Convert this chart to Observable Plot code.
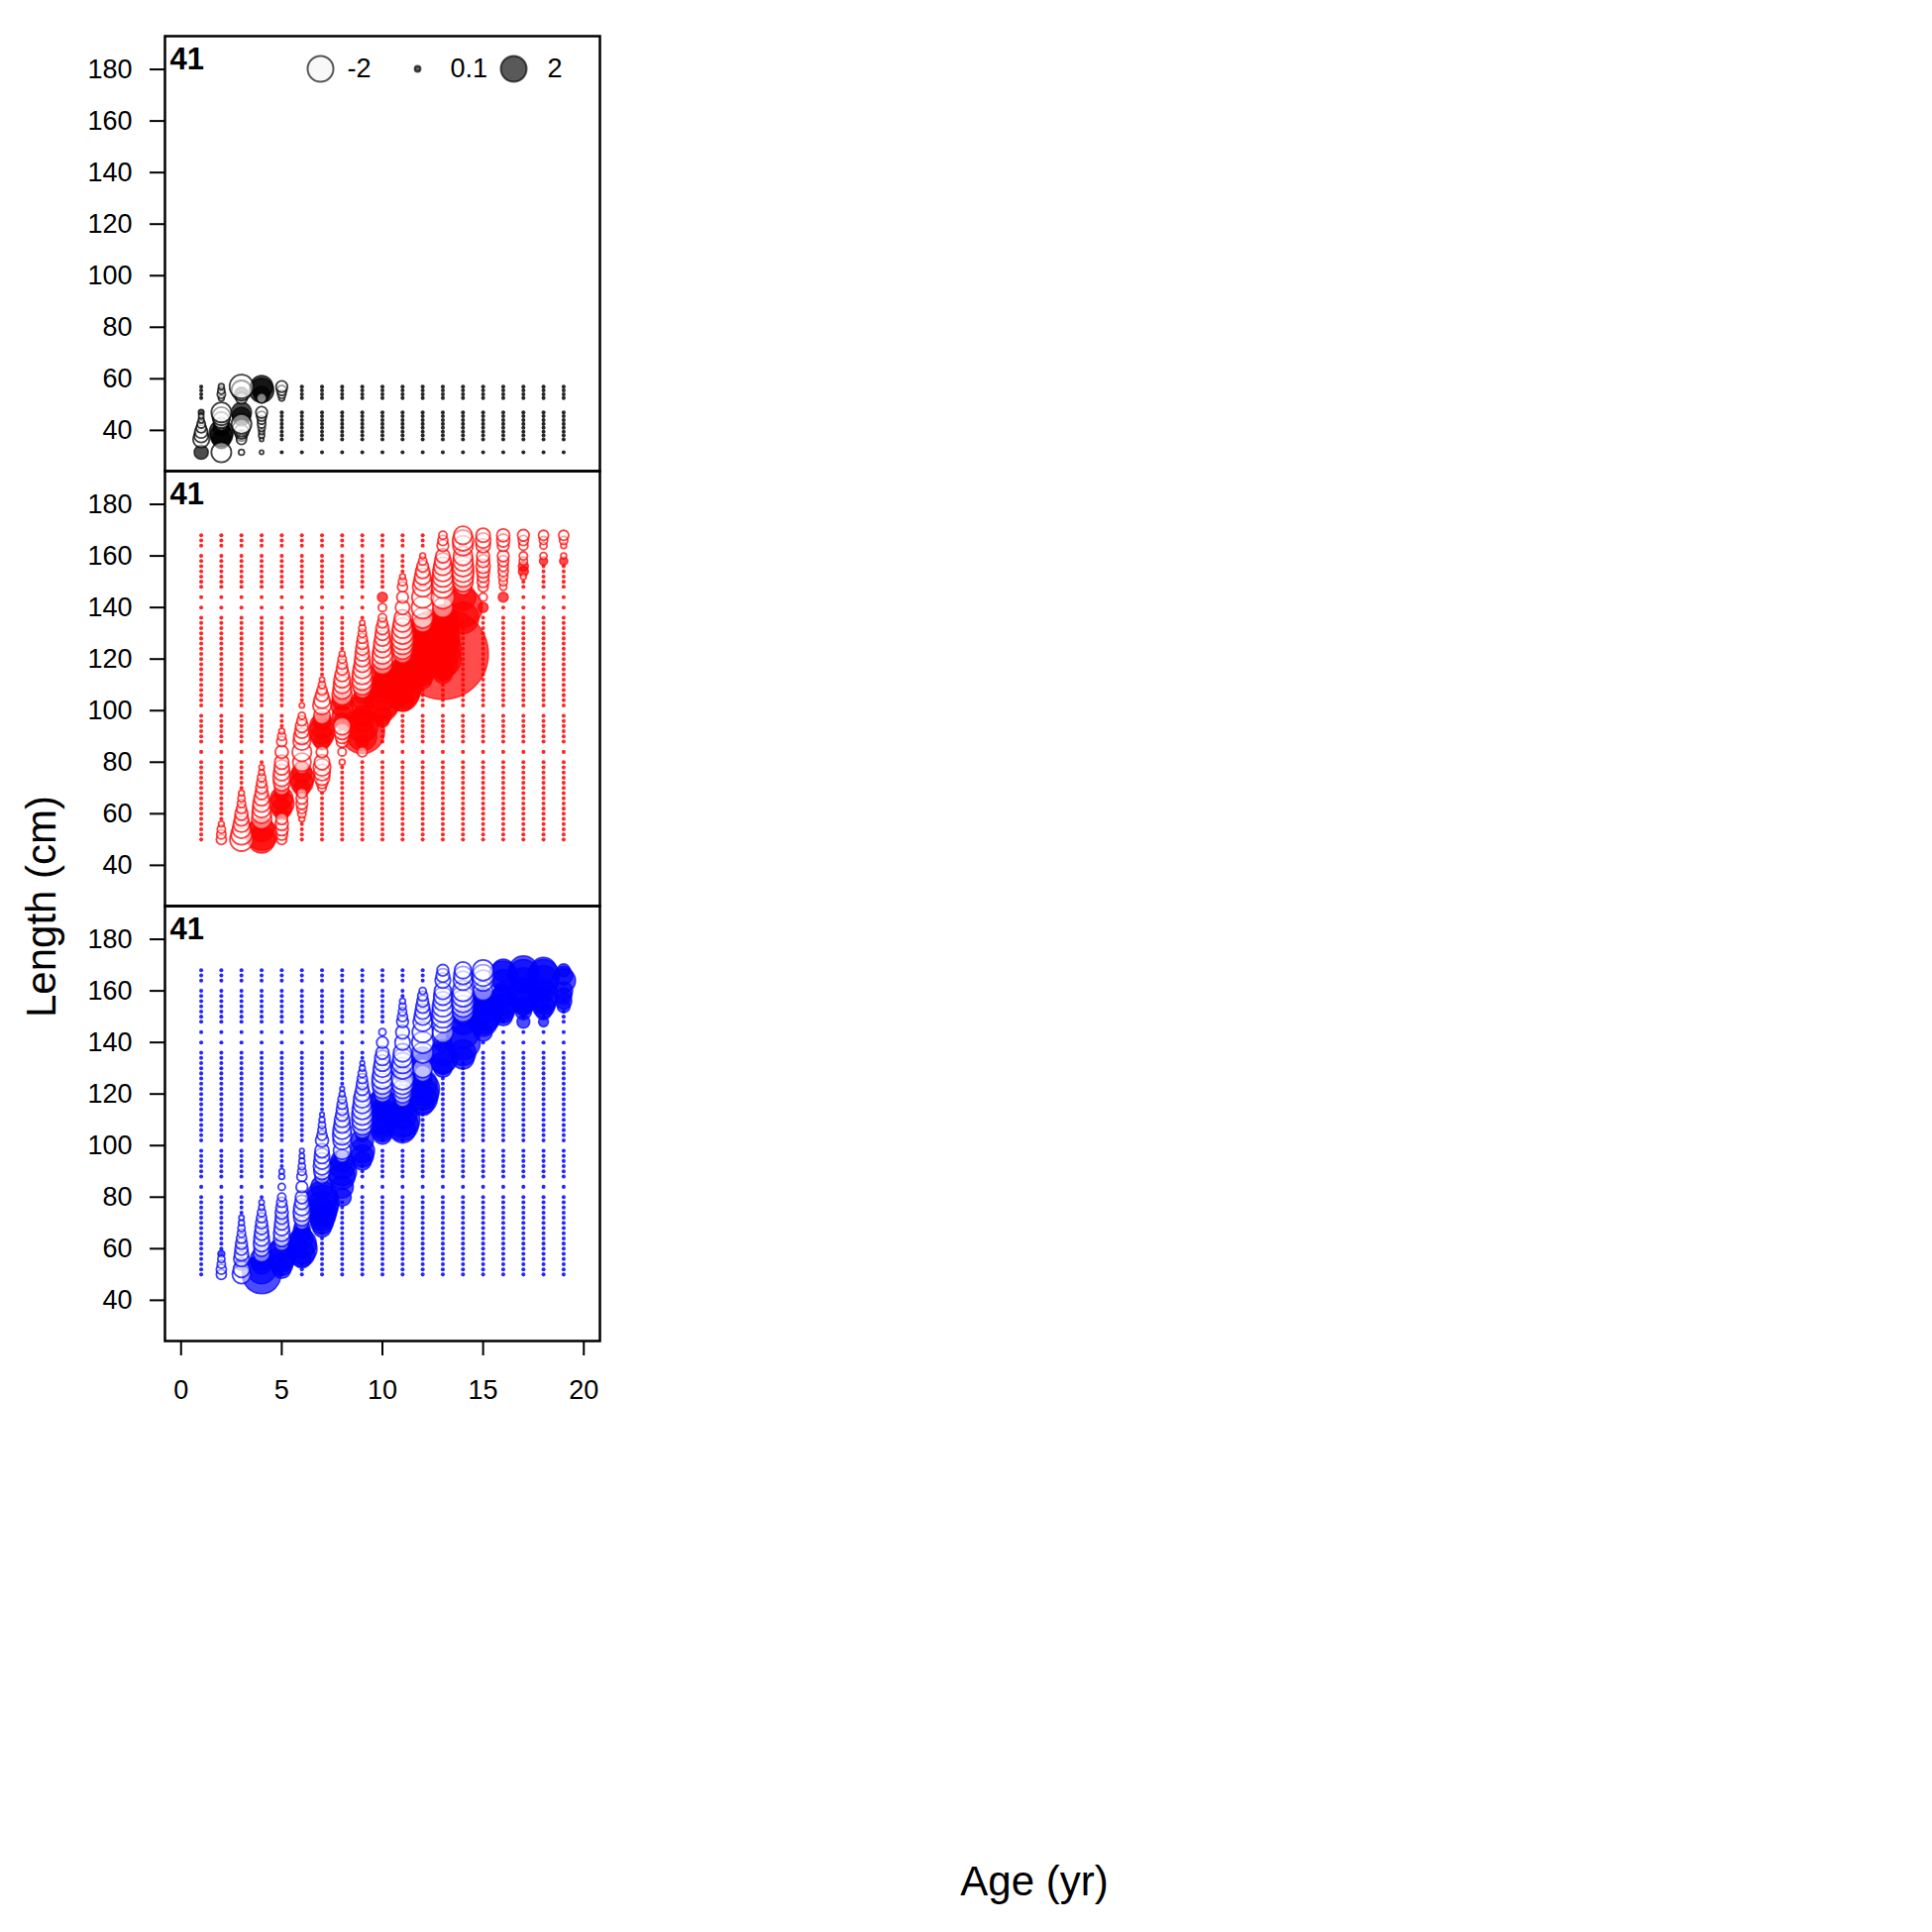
<!DOCTYPE html>
<html><head><meta charset="utf-8">
<script src="https://cdn.jsdelivr.net/npm/d3@7"></script>
<script src="https://cdn.jsdelivr.net/npm/@observablehq/plot@0.6"></script>
<style>body{margin:0;background:#fff;overflow:hidden}#chart{width:1950px;height:1950px}#chart svg{display:block}</style>
</head><body><div id="chart"></div><script>
// ---------- data ----------
const ages = [1,2,3,4,5,6,7,8,9,10,11,12,13,14,15,16,17,18,19];
const xTicks = [0,5,10,15,20];
const yTicks = [40,60,80,100,120,140,160,180];
const panelIds = ["A","B","C"];
const panelColors = ["black","red","blue"];
const panelLabels = ["41","41","41"];
// length bins present in each panel
const topRows = [31.5,36.5,38,39.5,41,42.5,44,45.5,47,52.5,54,55.5,57];
const sexRows = [50,52,54,56,58,60,62,64,66,68,70,72,74,76,78,80,84,88,90,92,94,96,98,102,104,106,108,110,112,114,116,118,120,122,124,126,128,130,132,134,136,140,144,148,150,152,154,156,158,160,164,166,168];
// residual of the many tiny dots
const tinyResid = 0.03;
// notable residuals [age, length, residual]
const topResid = [
[1,31.5,0.6],[1,36.5,-0.8],[1,38,-0.6],[1,39.5,-0.5],[1,41,-0.3],[1,42.5,-0.2],[1,44,-0.1],[1,45.5,-0.08],[1,47,0.1],
[2,31.5,-1.2],[2,36.5,1.0],[2,38,1.5],[2,39.5,1.7],[2,41,0.8],[2,42.5,-0.5],[2,44,-0.8],[2,45.5,-1.0],[2,47,-1.2],[2,52.5,-0.1],[2,54,-0.2],[2,55.5,-0.15],[2,57,-0.1],
[3,31.5,-0.1],[3,36.5,-0.3],[3,38,0.4],[3,39.5,-0.6],[3,41,-0.9],[3,42.5,-1.2],[3,44,0.5],[3,45.5,1.0],[3,47,1.2],[3,52.5,-0.4],[3,54,0.6],[3,55.5,-1.2],[3,57,-1.7],
[4,31.5,-0.05],[4,36.5,-0.05],[4,38,-0.1],[4,39.5,-0.1],[4,41,-0.15],[4,42.5,-0.2],[4,44,-0.2],[4,45.5,-0.3],[4,47,-0.4],[4,52.5,-0.3],[4,54,0.8],[4,55.5,1.8],[4,57,1.5],
[5,52.5,-0.1],[5,54,-0.2],[5,55.5,-0.3],[5,57,-0.4]
];
const femaleResid = [
[2,50,-0.3],[2,52,-0.25],[2,54,-0.2],[2,56,-0.1],
[3,50,-1.6],[3,52,-1.3],[3,54,-1.0],[3,56,-0.8],[3,58,-0.6],[3,60,-0.5],[3,62,-0.3],[3,64,-0.2],[3,66,-0.15],[3,68,-0.1],
[4,50,2.2],[4,52,3.0],[4,54,1.8],[4,56,0.6],[4,58,-1.2],[4,60,-1.1],[4,62,-1.0],[4,64,-0.9],[4,66,-0.7],[4,68,-0.5],[4,70,-0.4],[4,72,-0.3],[4,74,-0.2],[4,76,-0.1],[4,78,-0.08],
[5,50,-0.3],[5,52,-0.4],[5,54,-0.5],[5,56,-0.5],[5,58,-0.4],[5,60,0.5],[5,62,1.2],[5,64,1.8],[5,66,1.5],[5,68,0.6],[5,70,-0.6],[5,72,-0.8],[5,74,-0.9],[5,76,-0.8],[5,78,-0.7],[5,80,-0.6],[5,84,-0.5],[5,88,-0.3],[5,90,-0.2],[5,92,-0.1],
[6,58,-0.1],[6,60,-0.2],[6,62,-0.3],[6,64,-0.4],[6,66,-0.4],[6,68,-0.3],[6,70,0.8],[6,72,1.5],[6,74,1.8],[6,76,1.2],[6,78,-0.5],[6,80,-1.0],[6,84,-1.1],[6,88,-0.9],[6,90,-0.8],[6,92,-0.6],[6,94,-0.5],[6,96,-0.3],[6,98,-0.15],[6,102,-0.08],
[7,70,-0.2],[7,72,-0.4],[7,74,-0.7],[7,76,-0.8],[7,78,-0.9],[7,80,-0.7],[7,84,-0.4],[7,88,0.8],[7,90,1.5],[7,92,2.0],[7,94,1.8],[7,96,1.0],[7,98,-0.8],[7,102,-1.0],[7,104,-0.8],[7,106,-0.5],[7,108,-0.3],[7,110,-0.15],[7,112,-0.08],
[8,80,-0.1],[8,84,-0.2],[8,88,-0.4],[8,90,-0.6],[8,92,-0.8],[8,94,-0.9],[8,96,0.8],[8,98,1.2],[8,102,1.5],[8,104,1.2],[8,106,-1.2],[8,108,-1.0],[8,110,-0.9],[8,112,-0.8],[8,114,-0.6],[8,116,-0.4],[8,118,-0.3],[8,120,-0.2],[8,122,-0.1],
[9,84,-0.3],[9,88,0.5],[9,90,2.5],[9,92,6.0],[9,94,3.0],[9,96,1.5],[9,98,1.2],[9,102,1.5],[9,104,1.2],[9,106,0.8],[9,108,-0.8],[9,110,-1.2],[9,112,-1.3],[9,114,-1.2],[9,116,-1.0],[9,118,-0.8],[9,120,-0.7],[9,122,-0.6],[9,124,-0.5],[9,126,-0.4],[9,128,-0.3],[9,130,-0.2],[9,132,-0.15],[9,134,-0.08],
[10,96,0.5],[10,98,1.0],[10,102,3.0],[10,104,4.0],[10,106,3.0],[10,108,2.0],[10,110,1.5],[10,112,1.0],[10,114,2.0],[10,116,1.0],[10,118,-1.2],[10,120,-1.3],[10,122,-1.2],[10,124,-1.0],[10,126,-0.9],[10,128,-0.7],[10,130,-0.6],[10,132,-0.5],[10,134,-0.3],[10,136,-0.2],[10,140,-0.2],[10,144,0.3],
[11,104,1.5],[11,106,3.0],[11,108,4.0],[11,110,4.5],[11,112,3.5],[11,114,2.5],[11,116,1.5],[11,118,1.0],[11,120,0.6],[11,122,-1.0],[11,124,-1.3],[11,126,-1.4],[11,128,-1.5],[11,130,-1.4],[11,132,-1.2],[11,134,-1.0],[11,136,-0.8],[11,140,-0.6],[11,144,-0.4],[11,148,-0.3],[11,150,-0.2],[11,152,-0.1],
[12,112,1.0],[12,114,1.5],[12,116,2.0],[12,118,3.0],[12,120,4.5],[12,122,6.0],[12,124,7.0],[12,126,6.0],[12,128,5.0],[12,130,3.0],[12,132,1.5],[12,134,-1.0],[12,136,-1.3],[12,140,-1.5],[12,144,-1.4],[12,148,-1.2],[12,150,-1.0],[12,152,-0.8],[12,154,-0.6],[12,156,-0.4],[12,158,-0.2],[12,160,-0.1],
[13,114,1.0],[13,116,1.5],[13,118,2.5],[13,120,4.0],[13,122,25.0],[13,124,4.0],[13,126,3.0],[13,128,3.5],[13,130,3.0],[13,132,2.5],[13,134,3.5],[13,136,2.0],[13,140,-1.2],[13,144,-1.6],[13,148,-1.5],[13,150,-1.4],[13,152,-1.3],[13,154,-1.2],[13,156,-1.0],[13,158,-0.8],[13,160,-0.6],[13,164,-0.4],[13,166,-0.3],[13,168,-0.2],
[14,136,3.0],[14,140,4.5],[14,144,2.0],[14,148,-0.8],[14,150,-1.2],[14,152,-1.3],[14,154,-1.4],[14,156,-1.3],[14,158,-1.2],[14,160,-1.1],[14,164,-1.2],[14,166,-1.3],[14,168,-1.0],
[15,140,0.3],[15,144,-0.2],[15,148,-0.3],[15,150,-0.4],[15,152,-0.4],[15,154,-0.5],[15,156,-0.6],[15,158,-0.5],[15,160,-0.5],[15,164,-0.6],[15,166,-0.7],[15,168,-0.6],
[16,144,0.3],[16,148,-0.15],[16,150,-0.2],[16,152,-0.25],[16,154,-0.3],[16,156,-0.3],[16,158,-0.35],[16,160,-0.4],[16,164,-0.4],[16,166,-0.5],[16,168,-0.5],
[17,152,-0.1],[17,154,0.3],[17,156,0.3],[17,158,-0.2],[17,160,-0.2],[17,164,-0.25],[17,166,-0.3],[17,168,-0.4],
[18,158,0.2],[18,160,-0.15],[18,164,-0.15],[18,166,-0.2],[18,168,-0.3],
[19,158,0.2],[19,160,-0.1],[19,164,-0.1],[19,166,-0.2],[19,168,-0.3]
];
const maleResid = [
[2,50,-0.3],[2,52,-0.3],[2,54,-0.2],[2,56,-0.15],[2,58,0.15],
[3,50,-1.0],[3,52,-0.8],[3,54,0.5],[3,56,-0.7],[3,58,-0.6],[3,60,-0.5],[3,62,-0.4],[3,64,-0.3],[3,66,-0.2],[3,68,-0.15],[3,70,-0.1],[3,72,-0.08],
[4,50,4.5],[4,52,2.5],[4,54,1.2],[4,56,1.5],[4,58,-0.8],[4,60,-0.7],[4,62,-0.8],[4,64,-0.7],[4,66,-0.6],[4,68,-0.5],[4,70,-0.4],[4,72,-0.3],[4,74,-0.2],[4,76,-0.1],[4,78,-0.08],
[5,52,1.0],[5,54,1.5],[5,56,2.0],[5,58,2.7],[5,60,1.5],[5,62,-0.6],[5,64,-0.8],[5,66,-0.8],[5,68,-0.7],[5,70,-0.6],[5,72,-0.5],[5,74,-0.5],[5,76,-0.4],[5,78,-0.3],[5,80,-0.2],[5,84,-0.15],[5,88,-0.1],[5,90,-0.08],
[6,56,1.0],[6,58,2.0],[6,60,2.8],[6,62,2.5],[6,64,1.5],[6,66,1.0],[6,68,0.8],[6,70,-0.5],[6,72,-0.8],[6,74,-0.9],[6,76,-0.8],[6,78,-0.6],[6,80,-0.5],[6,84,-0.4],[6,88,-0.3],[6,90,-0.2],[6,92,-0.15],[6,94,-0.1],[6,96,-0.08],[6,98,-0.06],
[7,68,1.0],[7,70,1.5],[7,72,2.0],[7,74,2.5],[7,76,3.0],[7,78,3.5],[7,80,3.0],[7,84,1.5],[7,88,-0.6],[7,90,-0.8],[7,92,-0.9],[7,94,-0.8],[7,96,-0.7],[7,98,-0.6],[7,102,-0.5],[7,104,-0.3],[7,106,-0.2],[7,108,-0.15],[7,110,-0.1],[7,112,-0.06],
[8,80,1.0],[8,84,1.5],[8,88,2.0],[8,90,2.5],[8,92,2.0],[8,94,1.5],[8,96,-0.5],[8,98,-0.9],[8,102,-1.0],[8,104,-1.1],[8,106,-1.0],[8,108,-0.8],[8,110,-0.7],[8,112,-0.5],[8,114,-0.4],[8,116,-0.3],[8,118,-0.2],[8,120,-0.1],[8,122,-0.06],
[9,94,1.0],[9,96,1.5],[9,98,1.8],[9,102,1.5],[9,104,0.5],[9,106,-0.8],[9,108,-1.2],[9,110,-1.3],[9,112,-1.3],[9,114,-1.2],[9,116,-1.0],[9,118,-0.9],[9,120,-0.7],[9,122,-0.5],[9,124,-0.4],[9,126,-0.3],[9,128,-0.2],[9,130,-0.1],[9,132,-0.06],
[10,104,1.0],[10,106,1.5],[10,108,2.0],[10,110,2.5],[10,112,2.0],[10,114,1.5],[10,116,2.7],[10,118,1.5],[10,120,-0.8],[10,122,-1.1],[10,124,-1.3],[10,126,-1.3],[10,128,-1.1],[10,130,-1.0],[10,132,-0.8],[10,134,-0.7],[10,136,-0.5],[10,140,-0.4],[10,144,-0.15],
[11,106,2.0],[11,108,3.0],[11,110,3.6],[11,112,2.5],[11,114,1.5],[11,116,1.0],[11,118,-0.7],[11,120,-1.0],[11,122,-1.1],[11,124,-1.4],[11,126,-1.5],[11,128,1.0],[11,130,-1.4],[11,132,-1.3],[11,134,-1.1],[11,136,-1.0],[11,140,-0.7],[11,144,-0.55],[11,148,-0.4],[11,150,-0.3],[11,152,-0.2],[11,154,-0.15],[11,156,-0.1],
[12,116,1.5],[12,118,2.5],[12,120,3.0],[12,122,3.4],[12,124,2.5],[12,126,1.0],[12,128,-0.8],[12,130,-1.1],[12,132,1.2],[12,134,1.5],[12,136,-1.3],[12,140,-1.4],[12,144,-1.3],[12,148,-1.1],[12,150,-0.85],[12,152,-0.7],[12,154,-0.55],[12,156,-0.4],[12,158,-0.3],[12,160,-0.15],
[13,130,1.0],[13,132,1.5],[13,134,2.7],[13,136,2.0],[13,140,1.0],[13,144,-1.3],[13,148,-1.4],[13,150,-1.5],[13,152,-1.4],[13,154,-1.3],[13,156,-1.1],[13,158,-1.0],[13,160,-0.85],[13,164,-0.7],[13,166,-0.55],[13,168,-0.4],
[14,134,1.5],[14,136,2.0],[14,140,3.6],[14,144,3.2],[14,148,2.0],[14,150,1.0],[14,152,-1.3],[14,154,-1.4],[14,156,-1.5],[14,158,-1.4],[14,160,-1.3],[14,164,-1.1],[14,166,-1.0],[14,168,-0.85],
[15,144,1.0],[15,148,2.5],[15,150,3.5],[15,152,4.5],[15,154,3.5],[15,156,2.0],[15,158,1.0],[15,160,-1.1],[15,164,-1.3],[15,166,-1.4],[15,168,-1.3],
[16,150,1.0],[16,152,1.5],[16,154,2.0],[16,156,2.5],[16,158,1.5],[16,160,1.0],[16,164,1.5],[16,166,2.5],[16,168,1.5],
[17,148,0.5],[17,152,0.8],[17,154,1.0],[17,156,2.0],[17,158,3.0],[17,160,2.0],[17,164,2.0],[17,166,3.0],[17,168,2.5],
[18,148,0.3],[18,152,0.8],[18,154,1.5],[18,156,2.0],[18,158,2.7],[18,160,1.5],[18,164,2.7],[18,166,3.0],[18,168,2.0],
[19,154,0.5],[19,156,0.8],[19,158,0.8],[19,160,1.0],[19,164,1.7],[19,166,1.0],[19,168,0.5]
];
const legendValues = [-2, 0.1, 2];
const legendLabels = ["-2", "0.1", "2"];

// ---------- build table ----------
function build(panel, rows, resid) {
  const m = new Map(resid.map(([a, l, z]) => [a + "|" + l, z]));
  const out = [];
  for (const a of ages) for (const l of rows) {
    const k = a + "|" + l;
    out.push({panel, age: a, len: l, z: m.has(k) ? m.get(k) : tinyResid});
  }
  return out;
}
const colorOf = Object.fromEntries(panelIds.map((p, i) => [p, panelColors[i]]));
const all = [
  ...build("A", topRows, topResid),
  ...build("B", sexRows, femaleResid),
  ...build("C", sexRows, maleResid)
];
const tiny = all.filter(d => Math.abs(d.z) <= tinyResid);
const pos = all.filter(d => d.z > tinyResid);
const neg = all.filter(d => d.z < -tinyResid);

const legendDotDx = [157, 255, 352];
const legendTextDx = [184, 288, 386];
const legendMarks = [];
legendValues.forEach((v, i) => {
  legendMarks.push(Plot.dot([v], {
    frameAnchor: "top-left", dx: legendDotDx[i], dy: 33, fy: () => "A",
    r: d => Math.abs(d),
    fill: v < 0 ? "#f8f8f8" : "black", fillOpacity: v < 0 ? 1 : 0.65,
    stroke: "black", strokeOpacity: 0.65, strokeWidth: 2
  }));
  legendMarks.push(Plot.text([legendLabels[i]], {
    frameAnchor: "top-left", dx: legendTextDx[i], dy: 33, fy: () => "A",
    textAnchor: "start", lineAnchor: "middle", fontSize: 27, fill: "black"
  }));
});

const plot = Plot.plot({
  width: 1950, height: 1950,
  marginLeft: 166, marginRight: 1345, marginTop: 35, marginBottom: 596,
  style: {fontFamily: "'Liberation Sans', Arial, sans-serif", background: "white", color: "black"},
  x: {domain: [-0.8, 20.8]},
  y: {domain: [24.2, 192.9]},
  r: {domain: [0, 2], range: [0, 13]},
  fy: {domain: panelIds, padding: 0, axis: null, label: null},
  marks: [
    Plot.dot(tiny, {x: "age", y: "len", fy: "panel", r: d => Math.abs(d.z) * 1.6, sort: null,
      fill: d => colorOf[d.panel], fillOpacity: 0.85}),
    Plot.dot(pos, {x: "age", y: "len", fy: "panel", r: d => Math.abs(d.z), sort: null,
      fill: d => colorOf[d.panel], fillOpacity: 0.7,
      stroke: d => colorOf[d.panel], strokeOpacity: 0.7, strokeWidth: 1.5}),
    Plot.dot(neg, {x: "age", y: "len", fy: "panel", r: d => Math.abs(d.z), sort: null,
      fill: "white", fillOpacity: 0.5,
      stroke: d => colorOf[d.panel], strokeOpacity: 0.75, strokeWidth: 1.8}),
    Plot.frame({stroke: "black", strokeWidth: 2.5}),
    Plot.axisY({ticks: yTicks, tickSize: 15, tickPadding: 18, fontSize: 27, label: null, strokeWidth: 2}),
    Plot.axisX({ticks: xTicks, tickSize: 15, tickPadding: 24, fontSize: 27, label: null, strokeWidth: 2}),
    Plot.text(panelLabels.map((t, i) => ({t, p: panelIds[i]})), {text: "t", fy: "p",
      frameAnchor: "top-left", dx: 5, dy: 11, lineAnchor: "top", textAnchor: "start",
      fontWeight: "bold", fontSize: 31, fill: "black"}),
    ...legendMarks
  ]
});
const svg = d3.select(plot);
svg.append("text").attr("transform", "translate(45,915) rotate(-90)")
  .attr("text-anchor", "middle").attr("dominant-baseline", "middle")
  .style("font-size", "42px").style("font-family", "'Liberation Sans', Arial, sans-serif")
  .attr("fill", "black").text("Length (cm)");
svg.append("text").attr("x", 1044).attr("y", 1902)
  .attr("text-anchor", "middle").attr("dominant-baseline", "middle")
  .style("font-size", "42px").style("font-family", "'Liberation Sans', Arial, sans-serif")
  .attr("fill", "black").text("Age (yr)");
document.getElementById("chart").appendChild(plot);
</script></body></html>
